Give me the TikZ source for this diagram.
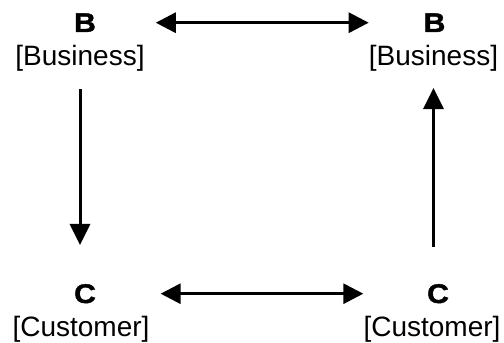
\documentclass[tikz,border=0pt]{standalone}
\usepackage{fontspec}
\setmainfont{Liberation Sans}
\newfontfamily\letterfont{Liberation Sans}[FakeStretch=1.12, FakeBold=1.5]
\usetikzlibrary{arrows.meta}
\begin{document}
\begin{tikzpicture}[x=1pt,y=1pt,
  letter/.style={inner sep=0pt, anchor=base, font=\letterfont\bfseries\fontsize{27}{30}\selectfont},
  role/.style={inner sep=0pt, anchor=base, font=\fontsize{28}{32}\selectfont},
  arr/.style={line width=3pt, -{Triangle[length=21pt,width=20pt]}},
  dblarr/.style={line width=3pt, {Triangle[length=20pt,width=20pt]}-{Triangle[length=20pt,width=20pt]}}]
  \useasboundingbox (0,0) rectangle (504,343);

  % business side
  \node[letter] (bL) at (85,311) {B};
  \node[role]   (bizL) at (80,277) {[Business]};
  \node[letter] (bR) at (434.5,311) {B};
  \node[role]   (bizR) at (433.5,277) {[Business]};

  % customer side
  \node[letter] (cL) at (85,40) {C};
  \node[role]   (custL) at (81,6) {[Customer]};
  \node[letter] (cR) at (438,40) {C};
  \node[role]   (custR) at (432,6) {[Customer]};

  % B <-> B
  \draw[dblarr, shorten <=11pt] (bizL.east |- bL) -- (bizR.west |- bR);
  % C <-> C
  \draw[dblarr, shorten <=11pt] (custL.east |- cL) -- (custR.west |- cR);
  % B -> C on the left
  \draw[arr, shorten <=17pt, shorten >=39pt] (bizL.south) -- (bizL.south |- cL.north);
  % C -> B on the right
  \draw[arr, shorten <=37pt, shorten >=16pt] (bizR.south |- cR.north) -- (bizR.south);
\end{tikzpicture}
\end{document}
